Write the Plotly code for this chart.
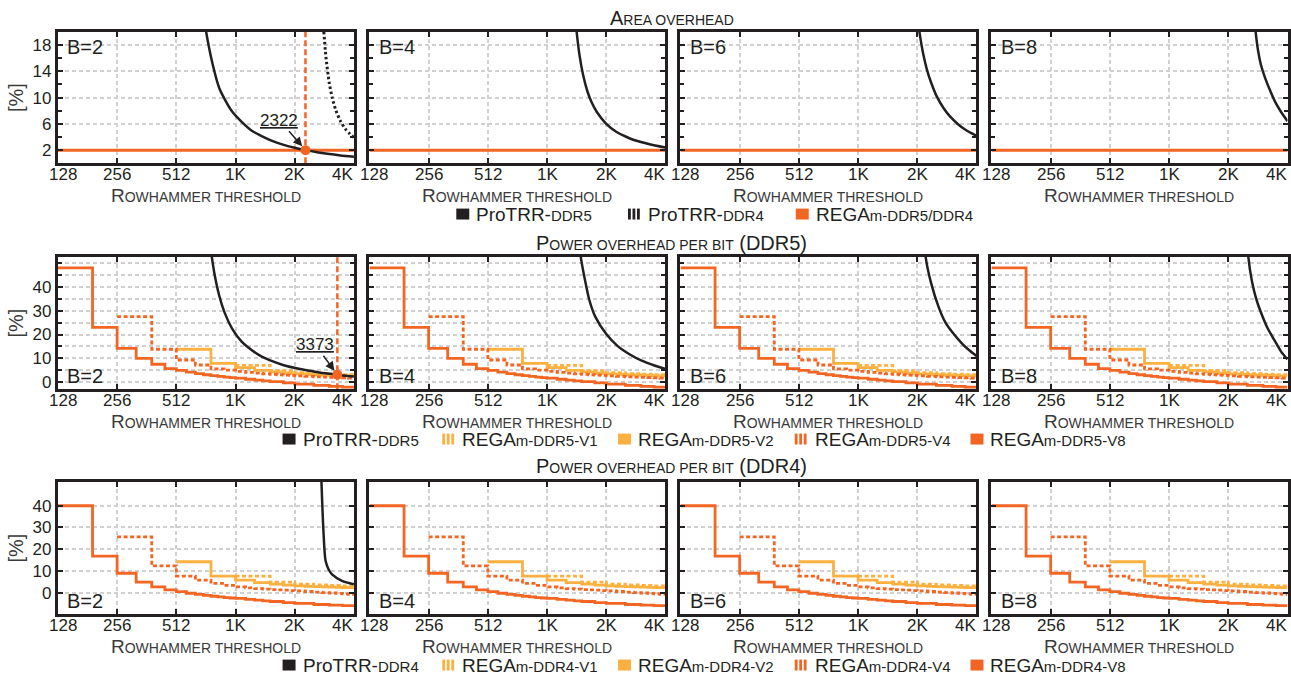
import math
import plotly.graph_objects as go

# ---------------- data ----------------
x_tick_vals = [128, 256, 512, 1024, 2048, 4096]
x_tick_text = ["128", "256", "512", "1K", "2K", "4K"]
b_labels = ["B=2", "B=4", "B=6", "B=8"]

# Area overhead [%] of ProTRR-DDR5 for B=2,4,6,8
area_p5_b2_thr = [705, 724, 780, 845, 900, 982, 1100, 1245, 1400, 1573, 1800, 2048, 2322, 2700, 3000, 3500, 4096]
area_p5_b2_pct = [22.6, 20.2, 15.3, 11.5, 9.8, 7.9, 6.3, 4.9, 4.1, 3.4, 2.8, 2.37, 2.0, 1.65, 1.45, 1.2, 1.0]
area_p5_b4_thr = [1430, 1448, 1500, 1560, 1640, 1730, 1834, 2048, 2300, 2600, 2860, 3400, 4096]
area_p5_b4_pct = [21.8, 20.0, 16.3, 13.5, 11.0, 9.2, 7.8, 6.0, 4.8, 4.0, 3.5, 2.9, 2.4]
area_p5_b6_thr = [2080, 2100, 2200, 2300, 2400, 2560, 2800, 3020, 3300, 3600, 3900, 4096]
area_p5_b6_pct = [20.9, 20.0, 16.5, 14.1, 12.4, 10.3, 8.3, 7.05, 5.95, 5.1, 4.5, 4.15]
area_p5_b8_thr = [2790, 2820, 2900, 3000, 3150, 3370, 3550, 3800, 4096]
area_p5_b8_pct = [21.5, 20.0, 17.2, 15.0, 13.0, 10.8, 9.3, 7.8, 6.4]
# Area overhead [%] of ProTRR-DDR4 (only visible for B=2)
area_p4_b2_thr = [2860, 2880, 2950, 3060, 3180, 3310, 3500, 3710, 3900, 4096]
area_p4_b2_pct = [21.5, 20.0, 16.2, 12.4, 9.9, 8.1, 6.4, 5.2, 4.5, 3.9]
# Area overhead [%] of REGAm (DDR5/DDR4)
area_rega_thr = [128, 4096]
area_rega_pct = [2.0, 2.0]
area_cross_thr = 2322
area_cross_pct = 2.0

# Power overhead per bit [%], ProTRR-DDR5 for B=2,4,6,8
pw5_p_b2_thr = [760, 776, 800, 845, 900, 982, 1100, 1245, 1400, 1573, 1800, 2150, 2600, 3000, 3373, 3700, 4096]
pw5_p_b2_pct = [58.0, 52.5, 45.5, 36.5, 29.3, 22.6, 17.0, 13.3, 10.6, 8.8, 7.1, 5.6, 4.4, 3.6, 3.1, 2.7, 2.4]
pw5_p_b4_thr = [1500, 1520, 1600, 1680, 1800, 2048, 2350, 2700, 3100, 3600, 4096]
pw5_p_b4_pct = [57.0, 52.5, 42.5, 34.5, 27.5, 20.2, 15.0, 11.6, 9.0, 7.0, 5.5]
pw5_p_b6_thr = [2240, 2260, 2400, 2630, 2850, 3140, 3450, 3750, 4096]
pw5_p_b6_pct = [57.0, 52.5, 42.0, 31.5, 25.0, 20.2, 16.3, 13.5, 11.0]
pw5_p_b8_thr = [2570, 2590, 2700, 2840, 2980, 3250, 3560, 3800, 4096]
pw5_p_b8_pct = [57.0, 52.5, 42.5, 35.0, 30.0, 22.5, 16.8, 12.8, 9.5]
pw5_cross_thr = 3373
pw5_cross_pct = 3.1

# Power overhead per bit [%], REGAm-DDR5 variants (step starts, step values)
pw5_v8_thr = [128, 192, 256, 320, 384, 448, 512, 576, 640, 704, 768, 832, 896, 960,
              1024, 1152, 1280, 1408, 1536, 1792, 2048, 2560, 3072, 3584]
pw5_v8_pct = [48.0, 23.0, 14.2, 10.0, 7.5, 5.7, 4.9, 4.2, 3.6, 3.1, 2.7, 2.4, 2.1, 1.9,
              1.7, 1.2, 0.8, 0.5, 0.2, -0.3, -0.8, -1.4, -1.8, -2.1]
pw5_v4_thr = [256, 384, 512, 640, 768, 896, 1024, 1152, 1280, 1408, 1536, 1664, 1792,
              1920, 2048, 2304, 2560, 2816, 3072, 3328, 3584, 3840]
pw5_v4_pct = [27.5, 13.8, 9.3, 7.2, 5.6, 5.0, 4.5, 4.1, 3.8, 3.5, 3.3, 3.1, 2.9,
              2.8, 2.6, 2.4, 2.2, 2.1, 2.0, 1.9, 1.8, 1.7]
pw5_v2_thr = [512, 768, 1024, 1280, 1536, 1792, 2048, 2304, 2560, 2816, 3072, 3328, 3584, 3840]
pw5_v2_pct = [13.8, 7.9, 6.1, 4.9, 4.3, 3.8, 3.5, 3.3, 3.1, 3.0, 2.8, 2.7, 2.6, 2.6]
pw5_v1_thr = [1024, 1536, 2048, 2560, 3072, 3584]
pw5_v1_pct = [7.0, 4.8, 4.0, 3.6, 3.3, 3.1]

# Power overhead per bit [%], ProTRR-DDR4 (only visible for B=2)
pw4_p_b2_thr = [2790, 2800, 2860, 2940, 3050, 3170, 3560, 4096]
pw4_p_b2_pct = [55.0, 51.0, 30.0, 14.5, 10.5, 8.4, 5.4, 3.8]

# Power overhead per bit [%], REGAm-DDR4 variants
pw4_v8_thr = [128, 192, 256, 320, 384, 448, 512, 576, 640, 704, 768, 832, 896, 960,
              1024, 1152, 1280, 1408, 1536, 1792, 2048, 2560, 3072, 3584]
pw4_v8_pct = [40.0, 16.8, 8.9, 4.8, 2.6, 1.2, 0.4, -0.3, -0.8, -1.3, -1.7, -2.0, -2.3, -2.5,
              -2.7, -3.1, -3.5, -3.8, -4.1, -4.6, -5.0, -5.5, -5.8, -6.0]
pw4_v4_thr = [256, 384, 512, 640, 768, 896, 1024, 1152, 1280, 1408, 1536, 1664, 1792,
              1920, 2048, 2304, 2560, 2816, 3072, 3328, 3584, 3840]
pw4_v4_pct = [25.7, 12.3, 7.6, 5.7, 4.2, 3.3, 2.6, 2.2, 1.8, 1.6, 1.4, 1.2, 1.1,
              0.9, 0.8, 0.5, 0.2, 0.0, -0.2, -0.4, -0.6, -0.8]
pw4_v2_thr = [512, 768, 1024, 1280, 1536, 1792, 2048, 2304, 2560, 2816, 3072, 3328, 3584, 3840]
pw4_v2_pct = [14.2, 7.6, 5.7, 4.6, 3.9, 3.4, 3.1, 2.9, 2.7, 2.6, 2.5, 2.4, 2.3, 2.3]
pw4_v1_thr = [1024, 1536, 2048, 2560, 3072, 3584]
pw4_v1_pct = [7.6, 4.8, 3.9, 3.5, 3.3, 3.1]

# ---------------- style ----------------
W, H = 1291, 681
FONT = "Liberation Sans, Arial, sans-serif"
BLACK = "#231F20"
DARK = "#F26522"
LIGHT = "#FBB040"
GRID = "#D0D0D0"
TEXTC = "#3A3A3A"

panel_left = [58, 370, 681.5, 993]
panel_w = 296.5
row_top = [32, 258, 484]
row_bot = [164, 391, 617]
y_ranges = [[0, 20], [-3, 52.6], [-10, 51]]
XMAX = 4096

fig = go.Figure()


def ax_names(n):
    return ("x" if n == 1 else f"x{n}"), ("y" if n == 1 else f"y{n}")


def steps(thr, val):
    return list(thr) + [XMAX], list(val) + [val[-1]]


def add_line(n, xs, ys, color, width, dash="solid", shape="linear", smoothing=None):
    xa, ya = ax_names(n)
    line = dict(color=color, width=width, dash=dash, shape=shape)
    if smoothing is not None:
        line["smoothing"] = smoothing
    fig.add_trace(go.Scatter(x=xs, y=ys, mode="lines", line=line, xaxis=xa, yaxis=ya,
                             showlegend=False, hoverinfo="skip"))


DASH = "4px,2.5px"
DOT = "2.5px,2.5px"

area_curves = [(area_p5_b2_thr, area_p5_b2_pct), (area_p5_b4_thr, area_p5_b4_pct),
               (area_p5_b6_thr, area_p5_b6_pct), (area_p5_b8_thr, area_p5_b8_pct)]
pw5_curves = [(pw5_p_b2_thr, pw5_p_b2_pct), (pw5_p_b4_thr, pw5_p_b4_pct),
              (pw5_p_b6_thr, pw5_p_b6_pct), (pw5_p_b8_thr, pw5_p_b8_pct)]

layout_axes = {}
annotations = []
shapes = []

for r in range(3):
    for c in range(4):
        n = r * 4 + c + 1
        xa, ya = ax_names(n)
        x0 = panel_left[c] / W
        x1 = (panel_left[c] + panel_w) / W
        y0 = 1 - row_bot[r] / H
        y1 = 1 - row_top[r] / H

        # ---- traces ----
        if r == 0:
            add_line(n, area_rega_thr, area_rega_pct, DARK, 3)
            tx, ty = area_curves[c]
            add_line(n, tx, ty, BLACK, 2.5, shape="spline", smoothing=0.6)
            if c == 0:
                add_line(n, area_p4_b2_thr, area_p4_b2_pct, BLACK, 3, dash=DOT,
                         shape="spline", smoothing=0.6)
                add_line(n, [area_cross_thr, area_cross_thr], y_ranges[0], DARK, 2.5, dash="6px,3px")
                fig.add_trace(go.Scatter(x=[area_cross_thr], y=[area_cross_pct], mode="markers",
                                         marker=dict(color=DARK, size=10), xaxis=xa, yaxis=ya,
                                         showlegend=False, hoverinfo="skip"))
        elif r == 1:
            sx, sy = steps(pw5_v1_thr, pw5_v1_pct)
            add_line(n, sx, sy, LIGHT, 2.8, dash=DASH, shape="hv")
            sx, sy = steps(pw5_v2_thr, pw5_v2_pct)
            add_line(n, sx, sy, LIGHT, 2.8, shape="hv")
            sx, sy = steps(pw5_v4_thr, pw5_v4_pct)
            add_line(n, sx, sy, DARK, 2.8, dash=DASH, shape="hv")
            sx, sy = steps(pw5_v8_thr, pw5_v8_pct)
            add_line(n, sx, sy, DARK, 2.8, shape="hv")
            tx, ty = pw5_curves[c]
            add_line(n, tx, ty, BLACK, 2.5, shape="spline", smoothing=0.6)
            if c == 0:
                add_line(n, [pw5_cross_thr, pw5_cross_thr], y_ranges[1], DARK, 2.5, dash="6px,3px")
                fig.add_trace(go.Scatter(x=[pw5_cross_thr], y=[pw5_cross_pct], mode="markers",
                                         marker=dict(color=DARK, size=10), xaxis=xa, yaxis=ya,
                                         showlegend=False, hoverinfo="skip"))
        else:
            sx, sy = steps(pw4_v1_thr, pw4_v1_pct)
            add_line(n, sx, sy, LIGHT, 2.8, dash=DASH, shape="hv")
            sx, sy = steps(pw4_v2_thr, pw4_v2_pct)
            add_line(n, sx, sy, LIGHT, 2.8, shape="hv")
            sx, sy = steps(pw4_v4_thr, pw4_v4_pct)
            add_line(n, sx, sy, DARK, 2.8, dash=DASH, shape="hv")
            sx, sy = steps(pw4_v8_thr, pw4_v8_pct)
            add_line(n, sx, sy, DARK, 2.8, shape="hv")
            if c == 0:
                add_line(n, pw4_p_b2_thr, pw4_p_b2_pct, BLACK, 2.5, shape="spline", smoothing=0.8)

        # ---- axes ----
        xaxis = dict(domain=[x0, x1], anchor=ya, type="log",
                     range=[math.log10(128), math.log10(4096)],
                     tickmode="array", tickvals=x_tick_vals, ticktext=x_tick_text,
                     showticklabels=False,
                     ticks="inside", ticklen=5, tickwidth=2, tickcolor=BLACK,
                     showline=True, linewidth=3, linecolor=BLACK, mirror="allticks",
                     showgrid=True, gridcolor=GRID, gridwidth=1.5, griddash="4px,3px",
                     zeroline=False, fixedrange=True)
        if r == 0:
            ytv = [2, 6, 10, 14, 18]
            minor = dict(dtick=2, tick0=0, ticks="inside", ticklen=4, tickwidth=2,
                         tickcolor=BLACK, showgrid=False)
        elif r == 1:
            ytv = [0, 10, 20, 30, 40]
            minor = dict(dtick=5, tick0=0, ticks="inside", ticklen=4, tickwidth=2,
                         tickcolor=BLACK, showgrid=True, gridcolor=GRID, gridwidth=1.5,
                         griddash="4px,3px")
        else:
            ytv = [0, 10, 20, 30, 40]
            minor = None
        yaxis = dict(domain=[y0, y1], anchor=xa, range=y_ranges[r],
                     tickmode="array", tickvals=ytv, ticktext=[str(v) for v in ytv],
                     ticks="inside", ticklen=5, tickwidth=2, tickcolor=BLACK,
                     showline=True, linewidth=3, linecolor=BLACK, mirror="allticks",
                     showgrid=True, gridcolor=GRID, gridwidth=1.5, griddash="4px,3px",
                     zeroline=False, showticklabels=(c == 0),
                     tickfont=dict(family=FONT, size=17, color=BLACK),
                     fixedrange=True)
        if minor:
            yaxis["minor"] = minor
        if c == 0:
            yaxis["title"] = dict(text="[%]", font=dict(family=FONT, size=20, color=TEXTC),
                                  standoff=4)
        layout_axes["xaxis" if n == 1 else f"xaxis{n}"] = xaxis
        layout_axes["yaxis" if n == 1 else f"yaxis{n}"] = yaxis

        # ---- x tick labels (placed on the axis scale, edge labels nudged inward) ----
        for tv, tt in zip(x_tick_vals, x_tick_text):
            shift = 5 if tv == x_tick_vals[0] else (-11 if tv == x_tick_vals[-1] else 0)
            annotations.append(dict(xref=xa, yref=f"{ya} domain", x=math.log10(tv), y=0,
                                    xanchor="center", yanchor="middle", xshift=shift,
                                    yshift=-11, text=tt, showarrow=False,
                                    font=dict(family=FONT, size=17, color=BLACK)))

        # ---- B label ----
        if r == 0:
            annotations.append(dict(xref=f"{xa} domain", yref=f"{ya} domain", x=0.025, y=0.98,
                                    xanchor="left", yanchor="top", text=b_labels[c],
                                    showarrow=False,
                                    font=dict(family=FONT, size=20, color=BLACK)))
        else:
            annotations.append(dict(xref=f"{xa} domain", yref=f"{ya} domain", x=0.025, y=0.0,
                                    xanchor="left", yanchor="bottom", text=b_labels[c],
                                    showarrow=False,
                                    font=dict(family=FONT, size=20, color=BLACK)))
        # ---- x axis title (small caps) ----
        annotations.append(dict(xref="paper", yref="paper",
                                x=(panel_left[c] + panel_w / 2) / W,
                                y=1 - (row_bot[r] + 32) / H, xanchor="center", yanchor="middle",
                                text="R<span style='font-size:14px'>OWHAMMER THRESHOLD</span>",
                                showarrow=False, font=dict(family=FONT, size=19, color=TEXTC)))

# crossover annotations
annotations.append(dict(xref="x", yref="y", x=math.log10(area_cross_thr), y=area_cross_pct,
                        text="<u>2322</u>", showarrow=True, arrowhead=2, arrowsize=1.2,
                        arrowwidth=1.5, arrowcolor=BLACK, ax=-26, ay=-30, standoff=5,
                        font=dict(family=FONT, size=17, color=BLACK)))
annotations.append(dict(xref="x5", yref="y5", x=math.log10(pw5_cross_thr), y=pw5_cross_pct,
                        text="<u>3373</u>", showarrow=True, arrowhead=2, arrowsize=1.2,
                        arrowwidth=1.5, arrowcolor=BLACK, ax=-22, ay=-30, standoff=5,
                        font=dict(family=FONT, size=17, color=BLACK)))

# row titles (small caps)
title_y = [18, 244, 468]
title_texts = [
    "A<span style='font-size:14px'>REA OVERHEAD</span>",
    "P<span style='font-size:14px'>OWER OVERHEAD PER BIT</span> (DDR5)",
    "P<span style='font-size:14px'>OWER OVERHEAD PER BIT</span> (DDR4)",
]
for i in range(3):
    annotations.append(dict(xref="paper", yref="paper", x=673 / W, y=1 - title_y[i] / H,
                            xanchor="center", yanchor="middle", text=title_texts[i],
                            showarrow=False, font=dict(family=FONT, size=20, color=BLACK)))

# legends (glyph shapes + labels)
SM = "<span style='font-size:15px'>"
legend_rows = [
    (215, [(457, "solid", BLACK, "ProTRR-" + SM + "DDR5</span>"),
           (629, "stripe", BLACK, "ProTRR-" + SM + "DDR4</span>"),
           (797, "solid", DARK, "REGA" + SM + "m-DDR5/DDR4</span>")]),
    (441, [(283, "solid", BLACK, "ProTRR-" + SM + "DDR5</span>"),
           (443, "stripe", LIGHT, "REGA" + SM + "m-DDR5-V1</span>"),
           (619, "solid", LIGHT, "REGA" + SM + "m-DDR5-V2</span>"),
           (796, "stripe", DARK, "REGA" + SM + "m-DDR5-V4</span>"),
           (972, "solid", DARK, "REGA" + SM + "m-DDR5-V8</span>")]),
    (668, [(283, "solid", BLACK, "ProTRR-" + SM + "DDR4</span>"),
           (443, "stripe", LIGHT, "REGA" + SM + "m-DDR4-V1</span>"),
           (619, "solid", LIGHT, "REGA" + SM + "m-DDR4-V2</span>"),
           (796, "stripe", DARK, "REGA" + SM + "m-DDR4-V4</span>"),
           (972, "solid", DARK, "REGA" + SM + "m-DDR4-V8</span>")]),
]
for ly, items in legend_rows:
    for lx, kind, col, txt in items:
        yt = 1 - (ly - 5.5) / H
        yb = 1 - (ly + 5.5) / H
        if kind == "solid":
            shapes.append(dict(type="rect", xref="paper", yref="paper", x0=lx / W,
                               x1=(lx + 13) / W, y0=yb, y1=yt, fillcolor=col,
                               line=dict(width=0)))
        else:
            for k in range(3):
                bx = lx + k * 4.5
                shapes.append(dict(type="rect", xref="paper", yref="paper", x0=bx / W,
                                   x1=(bx + 2.8) / W, y0=yb, y1=yt, fillcolor=col,
                                   line=dict(width=0)))
        annotations.append(dict(xref="paper", yref="paper", x=(lx + 18) / W, y=1 - ly / H,
                                xanchor="left", yanchor="middle", text=txt, showarrow=False,
                                font=dict(family=FONT, size=19, color=BLACK)))

fig.update_layout(width=W, height=H, margin=dict(l=0, r=0, t=0, b=0),
                  paper_bgcolor="white", plot_bgcolor="white", showlegend=False,
                  font=dict(family=FONT, color=BLACK),
                  annotations=annotations, shapes=shapes, **layout_axes)

fig.write_html("out.html")
